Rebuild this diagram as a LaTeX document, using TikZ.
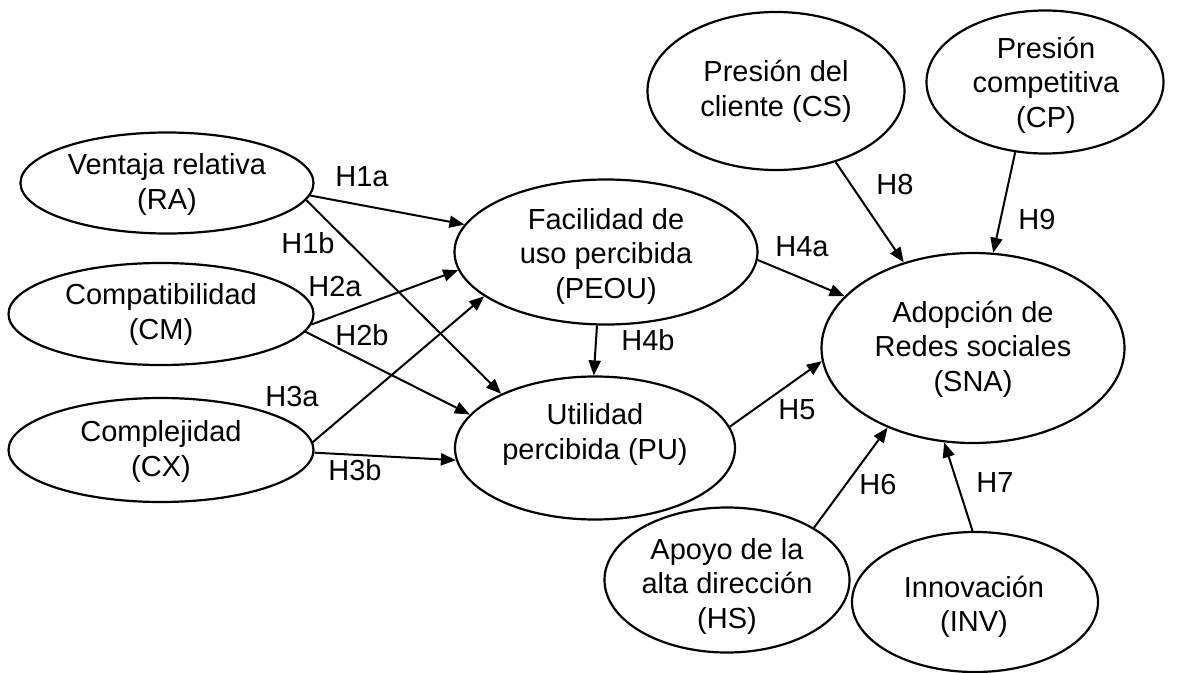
\documentclass[tikz,border=0pt]{standalone}
\usepackage{fontspec}
\setmainfont{Liberation Sans}
\usetikzlibrary{arrows.meta,shapes.geometric}
\begin{document}
\begin{tikzpicture}[x=1pt,y=-1pt,
  ell/.style={draw, ellipse, line width=2.2pt, inner sep=0pt},
  txt/.style={align=center, font=\fontsize{29}{34.5}\selectfont, inner sep=0pt},
  hyp/.style={font=\fontsize{29}{34.5}\selectfont, inner sep=0pt},
  arr/.style={line width=2pt, -{Triangle[length=15pt,width=12pt]}}]
\useasboundingbox (0,0) rectangle (1186,672);
\clip (0,0) rectangle (1186,672);
% ellipses
\node[ell, minimum width=293pt, minimum height=101pt] (RA) at (167,183) {};
\node[ell, minimum width=305pt, minimum height=102pt] (CM) at (161,314) {};
\node[ell, minimum width=305pt, minimum height=104pt] (CX) at (161,450) {};
\node[ell, minimum width=303pt, minimum height=145pt] (PEOU) at (606,252) {};
\node[ell, minimum width=280pt, minimum height=143pt] (PU) at (595,448) {};
\node[ell, minimum width=303pt, minimum height=190pt] (SNA) at (973,348) {};
\node[ell, minimum width=257pt, minimum height=158pt] (CS) at (776,91) {};
\node[ell, minimum width=237pt, minimum height=143pt] (CP) at (1045,82) {};
\node[ell, minimum width=245pt, minimum height=145pt] (HS) at (727,580) {};
\node[ell, minimum width=246pt, minimum height=140pt] (INV) at (975,602) {};
% texts
\node[txt] (RAt) at (167,184.5) {Ventaja relativa\\(RA)};
\node[txt] (CMt) at (161,314.5) {Compatibilidad\\(CM)};
\node[txt] (CXt) at (161,451.5) {Complejidad\\(CX)};
\node[txt] (PEOUt) at (606,256) {Facilidad de\\uso percibida\\(PEOU)};
\node[txt] (PUt) at (595,434.5) {Utilidad\\percibida (PU)};
\node[txt] (SNAt) at (973,349) {Adopción de\\Redes sociales\\(SNA)};
\node[txt] (CSt) at (776,91.5) {Presión del\\cliente (CS)};
\node[txt] (CPt) at (1046,85) {Presión\\competitiva\\(CP)};
\node[txt] (HSt) at (727,586) {Apoyo de la\\alta dirección\\(HS)};
\node[txt] (INVt) at (974,607) {Innovación\\(INV)};
% arrows
\draw[arr] (RA.-5) -- (PEOU.169);
\draw[arr] (RA.-7) -- (PU.150);
\draw[arr] (CM.-4) -- (PEOU.-173);
\draw[arr] (CM.-7) -- (PU.165);
\draw[arr] (CX.3) -- (PEOU.-160);
\draw[arr] (CX.-1) -- (PU.-175);
\draw[arr] (PEOU.-97) -- (PU.91);
\draw[arr] (PEOU.-3) -- (SNA.158);
\draw[arr] (PU.9) -- (SNA.-175);
\draw[arr] (CS.-50) -- (SNA.129);
\draw[arr] (CP.-113) -- (SNA.78);
\draw[arr] (HS.31) -- (SNA.-137);
\draw[arr] (INV.92) -- (SNA.-107);
% hypothesis labels
\node[hyp] (h1a) at (362,177) {H1a};
\node[hyp] (h1b) at (308,243) {H1b};
\node[hyp] (h2a) at (335,287) {H2a};
\node[hyp] (h2b) at (362,335) {H2b};
\node[hyp] (h3a) at (292,397) {H3a};
\node[hyp] (h3b) at (355,470) {H3b};
\node[hyp] (h4a) at (802,247) {H4a};
\node[hyp] (h4b) at (648,340) {H4b};
\node[hyp] (h5) at (797,410) {H5};
\node[hyp] (h8) at (895,185) {H8};
\node[hyp] (h9) at (1037,220) {H9};
\node[hyp] (h6) at (878,485) {H6};
\node[hyp] (h7) at (995,483) {H7};
\end{tikzpicture}
\end{document}
